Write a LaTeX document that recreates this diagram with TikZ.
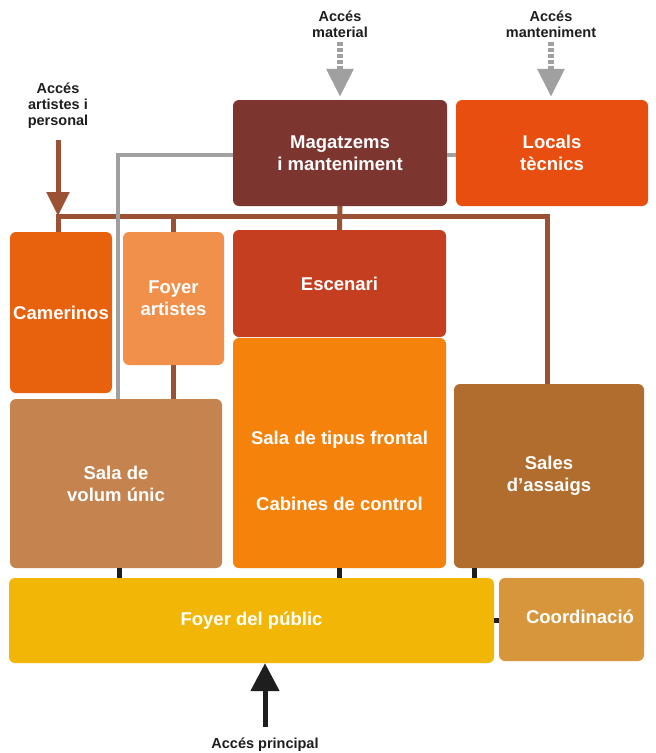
\documentclass[tikz,border=0pt]{standalone}
\usepackage{fontspec}
\setmainfont{Liberation Sans}
\usetikzlibrary{arrows.meta}
\definecolor{magcol}{RGB}{125,53,48}
\definecolor{loccol}{RGB}{232,78,16}
\definecolor{camcol}{RGB}{232,98,14}
\definecolor{fartcol}{RGB}{240,144,74}
\definecolor{esccol}{RGB}{197,62,31}
\definecolor{salacol}{RGB}{245,130,11}
\definecolor{volcol}{RGB}{197,131,79}
\definecolor{asscol}{RGB}{176,109,46}
\definecolor{fpubcol}{RGB}{242,183,6}
\definecolor{coordcol}{RGB}{216,150,60}
\definecolor{buscol}{RGB}{155,82,52}
\definecolor{greycol}{RGB}{160,160,160}
\definecolor{darkcol}{RGB}{30,30,30}
\begin{document}
\begin{tikzpicture}[x=1pt,y=-1pt,
	room/.style={rounded corners=6pt,inner sep=0pt,text=white,align=center,
		font=\fontsize{18.5}{22}\selectfont\bfseries},
	acc/.style={inner sep=1pt,align=center,text=darkcol,
		font=\fontsize{14.5}{16}\selectfont\bfseries},
	bus/.style={draw=buscol,line width=5pt},
	greyline/.style={draw=greycol,line width=4pt},
	link/.style={draw=darkcol,line width=5pt},
	tip/.style={-{Triangle[width=22pt,length=24pt]}}]
	\useasboundingbox[fill=white] (0,0) rectangle (656,753);
	% rooms
	\node[room,fill=magcol,minimum width=214pt,minimum height=106pt] (mag) at (340,153) {Magatzems\\i manteniment};
	\node[room,fill=loccol,minimum width=192pt,minimum height=106pt] (loc) at (552,153) {Locals\\tècnics};
	\node[room,fill=camcol,minimum width=102pt,minimum height=161pt] (cam) at (61,312.5) {Camerinos};
	\node[room,fill=fartcol,minimum width=101pt,minimum height=133pt] (fart) at (173.5,298.5) {Foyer\\artistes};
	\node[room,fill=esccol,minimum width=213pt,minimum height=107pt] (esc) at (339.5,283.5) {Escenari};
	\node[room,fill=salacol,minimum width=213pt,minimum height=230pt] (sala) at (339.5,453) {};
	\node[room] (frontal) at (339.5,440) {Sala de tipus frontal};
	\node[room] (cabines) at (339.5,504) {Cabines de control};
	\node[room,fill=volcol,minimum width=212pt,minimum height=169pt] (vol) at (116,483.5) {Sala de\\volum únic};
	\node[room,fill=asscol,minimum width=190pt,minimum height=184pt] (ass) at (549,476) {Sales\\d’assaigs};
	\node[room,fill=fpubcol,minimum width=485pt,minimum height=85pt] (fpub) at (251.5,620.5) {Foyer del públic};
	\node[room,fill=coordcol,minimum width=145pt,minimum height=83pt] (coord) at (571.5,619.5) {};
	\node[room] (coordtxt) at (580,617) {Coordinació};
	% accessos
	\node[acc] (matlbl) at (340,24) {Accés\\material};
	\node[acc] (mantlbl) at (551,24) {Accés\\manteniment};
	\node[acc] (artlbl) at (58,106) {Accés\\artistes i\\personal};
	\node[acc] (mainlbl) at (265,745) {Accés principal};
	\coordinate (busL) at (58,216);
	\coordinate (busR) at (547,216);
	% circulacio interna
	\draw[bus] (busL |- cam.north) -- (busL) -- (busR) -- (busR |- ass.north);
	\draw[bus] (fart.north |- busL) -- (fart.north);
	\draw[bus] (mag.south) -- (esc.north);
	\draw[bus] (fart.south) -- (fart.south |- vol.north);
	\draw[bus,tip,shorten <=10pt] (artlbl.south) -- (busL);
	\coordinate (greyturn) at (118,155);
	\draw[greyline] (mag.west |- greyturn) -- (greyturn) -- (greyturn |- vol.north);
	\draw[greyline] (mag.east |- greyturn) -- (loc.west |- greyturn);
	\foreach \from/\to in {matlbl/mag,mantlbl/loc}
	\draw[draw=greycol,line width=6pt,dash pattern=on 4pt off 2pt,-{Triangle[width=26pt,length=28pt,fill=greycol]},shorten <=3pt,shorten >=3pt] (\from.south) -- (\from.south |- \to.north);
	% connexions amb el foyer
	\draw[link] ([xshift=3pt]vol.south) -- ([xshift=3pt]vol.south |- fpub.north);
	\draw[link] (sala.south) -- (sala.south |- fpub.north);
	\draw[link] ([xshift=21pt]ass.south west) -- ([xshift=21pt]ass.south west |- fpub.north);
	\draw[link] (fpub.east) -- (fpub.east -| coord.west);
	\draw[link,-{Triangle[width=28pt,length=28pt]}] (mainlbl.north) ++(0,-10) coordinate (mainin) -- (mainin |- fpub.south);
\end{tikzpicture}
\end{document}
